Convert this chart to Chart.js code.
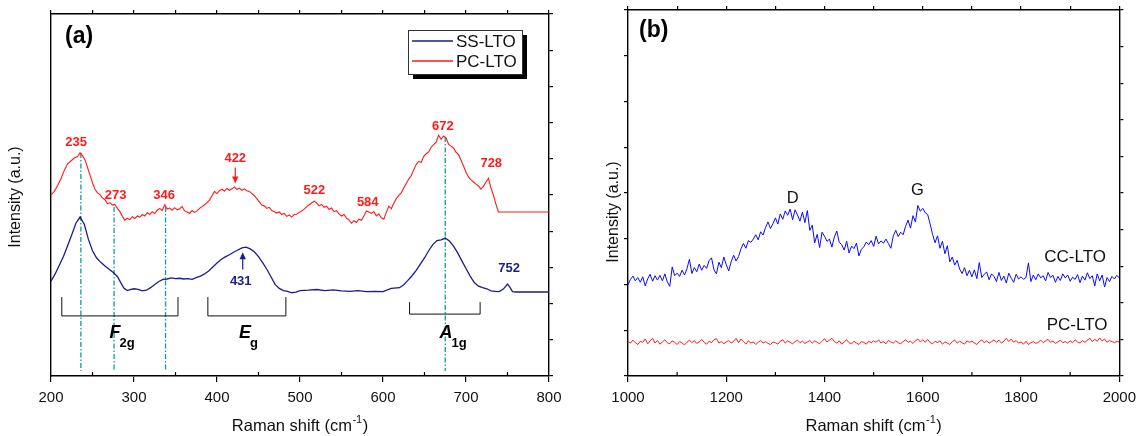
<!DOCTYPE html>
<html>
<head>
<meta charset="utf-8">
<title>Raman spectra</title>
<script src="https://cdn.jsdelivr.net/npm/chart.js@4.4.1/dist/chart.umd.min.js"></script>
<style>
  html, body { margin: 0; padding: 0; background: #fff; }
  #wrap { position: relative; width: 1143px; height: 436px; overflow: hidden; }
  canvas { position: absolute; top: 0; }
  #chartA { left: 0; width: 570px; height: 436px; }
  #chartB { left: 575px; width: 568px; height: 436px; }
</style>
</head>
<body>
<div id="wrap">
  <canvas id="chartA" width="570" height="436"></canvas>
  <canvas id="chartB" width="568" height="436"></canvas>
</div>
<script>
const FONT = "'Liberation Sans', Arial, Helvetica, sans-serif";

/* ---------- panel (a): 200–800 cm-1 ---------- */
const ssLto = [
  [200,26.2],[205,28.2],[210,30.6],[215,33.0],[220,36.0],[225,39.0],[230,42.2],[235,43.9],[240,42.0],[245,37.8],
  [250,34.6],[255,32.6],[260,31.4],[265,30.4],[270,29.5],[275,28.6],[280,27.5],[284,25.8],[288,24.2],[292,23.6],
  [296,23.9],[300,24.1],[305,23.9],[310,23.5],[315,23.7],[320,24.4],[325,25.3],[330,26.1],[335,26.7],[340,26.8],
  [345,27.1],[350,26.9],[355,27.0],[360,26.8],[365,26.9],[370,26.7],[375,27.2],[380,27.6],[385,28.2],[390,29.0],
  [395,30.1],[400,31.2],[405,32.2],[410,32.9],[415,33.5],[420,34.2],[425,34.8],[430,35.4],[435,35.6],[440,35.1],
  [445,34.3],[450,33.0],[455,31.3],[460,29.5],[465,27.4],[470,25.3],[475,24.2],[480,23.6],[485,23.4],[490,23.0],
  [495,23.2],[500,23.6],[510,23.7],[520,23.9],[530,23.6],[540,23.8],[550,23.5],[560,23.4],[570,23.6],[580,23.3],
  [590,23.4],[600,23.3],[610,24.2],[620,24.4],[625,25.2],[630,26.4],[635,27.7],[640,29.2],[645,30.9],[650,32.6],
  [655,34.6],[660,36.3],[665,37.4],[670,37.6],[675,38.1],[680,37.3],[685,35.9],[690,34.0],[695,31.8],[700,29.7],
  [705,27.6],[710,25.8],[715,24.8],[720,24.4],[725,24.1],[730,23.5],[735,23.4],[740,23.3],[745,24.0],[750,25.4],
  [753,24.5],[756,23.3],[760,23.2],[800,23.2]
];

const pcLtoA = [
  [200,50.0],[204,51.0],[208,52.6],[212,54.5],[216,56.8],[220,58.6],[224,59.4],[228,60.2],[232,60.6],[235,61.7],
  [238,60.8],[241,59.7],[244,57.6],[247,55.5],[250,53.4],[253,51.6],[256,50.6],[259,50.1],[262,49.2],[265,48.7],
  [268,47.6],[271,47.9],[274,47.2],[277,47.4],[280,46.3],[283,45.4],[286,44.1],[289,43.0],[292,43.6],[295,43.2],
  [298,44.0],[301,43.5],[304,44.2],[307,43.9],[310,44.6],[313,44.2],[316,45.1],[319,44.6],[322,45.4],[325,44.9],
  [328,45.8],[331,46.3],[334,45.7],[337,47.3],[340,46.1],[343,46.4],[346,45.8],[349,46.5],[352,45.9],[355,46.2],
  [358,46.8],[361,45.6],[364,45.3],[367,44.9],[370,45.7],[373,45.2],[376,45.6],[379,46.3],[382,46.8],[385,47.3],
  [388,47.9],[391,48.6],[394,49.8],[397,51.0],[400,50.4],[403,51.2],[406,51.6],[409,51.1],[412,51.8],[415,51.3],
  [418,51.7],[421,52.2],[424,51.5],[427,51.9],[430,51.3],[433,51.7],[436,51.2],[439,51.0],[442,50.4],[445,49.8],
  [448,49.0],[451,48.1],[454,47.2],[457,47.0],[460,46.3],[463,46.6],[466,45.7],[469,45.4],[472,45.0],[475,45.3],
  [478,44.6],[481,44.9],[484,44.1],[487,44.5],[490,43.9],[493,44.6],[496,44.7],[499,45.2],[502,45.6],[505,46.1],
  [508,46.8],[511,47.3],[514,47.8],[517,48.3],[520,47.8],[523,47.0],[526,47.4],[529,46.6],[532,46.9],[535,46.0],
  [538,46.4],[541,45.4],[544,45.7],[547,44.8],[550,44.2],[553,44.6],[556,43.6],[559,43.1],[562,42.2],[565,42.9],
  [568,42.4],[571,43.3],[574,43.0],[577,44.2],[580,45.6],[583,45.3],[586,44.9],[589,45.4],[592,44.2],[595,44.8],
  [598,43.7],[601,43.3],[604,45.2],[607,46.9],[610,46.2],[613,47.7],[616,49.0],[619,49.9],[622,50.6],[625,52.0],
  [628,53.2],[631,54.4],[634,55.3],[637,57.0],[640,58.4],[643,59.3],[646,59.0],[649,60.6],[652,61.4],[655,61.9],
  [658,63.2],[661,63.9],[664,64.6],[667,66.5],[670,65.4],[673,66.3],[676,65.8],[679,64.0],[682,63.5],[685,63.0],
  [688,61.8],[691,61.2],[694,59.6],[697,58.0],[700,56.3],[703,55.0],[706,54.2],[709,53.6],[712,53.0],[715,52.5],
  [718,51.6],[721,52.4],[724,53.5],[727,54.6],[730,52.0],[733,50.0],[736,47.5],[739,45.3],[800,45.3]
];

// dash-dot guide lines: wavenumber and the intensity where each one starts
const guideX   = [236, 276, 338, 675];
const guideTop = [61.6, 46.7, 46.7, 66.0];
const guideBottom = 1.4;

// labelled peaks
const pcPeaks   = [235, 273, 346, 422, 522, 584, 672, 728];
const pcPeakY   = [64.6, 50.0, 50.0, 60.2, 51.4, 48.0, 69.0, 58.8];
const ssPeaks   = [431, 752];
const ssPeakY   = [26.0, 29.6];

// Raman-active mode groups
const bandMain  = ['F', 'E', 'A'];
const bandSub   = ['2g', 'g', '1g'];
const bandFrom  = [213, 389, 632];
const bandTo    = [353, 483, 717];
const bandTop   = [21.8, 21.8, 20.4];
const bandLow   = [16.6, 16.6, 17.1];

const xTicksA = [200, 300, 400, 500, 600, 700, 800];
const xMinorA = [250, 350, 450, 550, 650, 750];

/* ---------- panel (b): 1000–2000 cm-1 ---------- */
const B_START = 1000, B_STEP = 5;
const ccLto = [
  24.9,26.4,27.3,26.0,26.9,25.6,27.1,24.6,26.5,27.8,25.9,27.4,26.2,27.5,26.0,27.9,25.7,24.5,29.8,27.4,
  28.1,27.2,28.9,27.6,29.3,31.9,28.0,29.6,28.5,30.6,28.9,30.2,29.4,31.5,32.3,29.0,27.9,31.1,29.6,32.5,
  30.4,28.7,31.2,33.0,31.4,32.6,34.8,36.2,34.9,37.0,36.5,37.4,38.6,37.2,39.4,38.5,40.6,42.1,40.3,41.6,
  43.2,41.5,44.3,42.8,45.1,43.9,45.6,42.7,45.4,44.0,42.3,44.8,41.9,45.2,39.8,41.2,36.4,38.7,35.1,39.3,
  38.2,36.8,37.4,35.2,38.0,39.6,36.5,35.9,34.4,36.8,33.6,35.5,34.8,36.3,32.8,34.6,35.3,36.6,35.9,37.0,
  35.4,38.2,36.1,36.9,36.3,37.4,36.2,34.9,38.3,39.8,38.1,39.3,38.6,40.9,42.6,40.4,43.8,42.1,46.6,45.0,
  45.8,44.6,44.1,41.5,38.7,36.4,38.3,34.9,36.8,33.4,35.6,31.2,32.5,30.3,31.6,29.2,28.0,29.6,27.4,28.9,
  27.1,29.0,26.6,31.0,26.9,27.8,28.4,26.3,27.9,27.2,25.8,28.3,26.1,27.3,25.4,28.1,26.7,25.6,27.8,26.5,
  27.1,26.4,26.9,30.9,25.8,27.6,26.3,27.9,26.8,27.4,26.0,28.3,26.9,27.5,25.6,27.2,26.1,27.9,26.8,27.6,
  25.9,27.0,26.4,27.7,25.5,27.3,26.2,28.2,26.6,27.4,24.6,27.9,26.0,27.6,24.3,26.9,25.8,27.2,26.5,27.5,
  26.8
];
const pcLtoB = [
  9.4,9.0,9.8,9.1,8.6,9.5,9.2,10.1,8.8,9.6,10.3,9.0,9.7,8.7,9.3,9.9,9.1,8.8,9.6,9.2,
  8.6,9.4,9.0,8.5,9.2,9.8,9.1,9.7,8.9,9.3,10.0,9.2,8.7,9.5,9.1,9.9,10.2,9.0,9.4,8.8,
  9.3,9.7,9.0,9.5,10.3,9.1,10.1,9.4,8.7,9.6,9.0,9.3,8.6,9.2,9.7,9.0,9.4,8.9,8.6,9.3,
  9.1,8.7,9.5,9.9,9.0,9.6,9.2,8.8,9.4,9.8,9.1,9.5,8.9,9.3,9.7,9.0,9.6,9.2,8.8,9.5,
  10.2,9.3,9.8,10.3,9.4,9.0,9.6,8.7,9.3,9.9,9.1,8.8,9.5,9.0,8.6,9.4,9.2,8.7,9.5,9.1,
  9.6,9.2,9.9,9.0,9.4,8.8,9.7,9.3,9.0,9.6,9.1,8.8,9.4,9.9,9.2,9.5,8.9,9.6,10.1,9.3,
  9.9,9.2,10.0,9.1,8.8,9.5,9.1,9.6,8.7,9.3,9.0,8.6,9.4,9.8,9.0,9.5,9.1,8.7,9.6,9.2,
  9.5,9.0,8.6,9.4,9.9,9.1,9.6,9.0,9.4,9.9,9.2,9.8,9.0,9.5,10.3,9.4,10.1,9.2,9.7,9.0,
  9.3,8.7,9.5,8.6,9.1,9.4,8.9,9.2,9.8,9.1,9.6,10.0,9.2,9.5,8.9,9.3,9.8,9.1,9.4,9.0,
  9.6,9.1,9.9,9.3,9.0,9.7,9.2,9.8,10.3,9.4,10.0,9.5,10.4,9.6,10.1,9.2,9.7,9.4,9.1,9.5,
  9.3
];
const bandLabelsB = ['D', 'G'];
const bandLabelX  = [1335, 1589];
const bandLabelY  = [48.6, 50.8];
const seriesLabelsB = ['CC-LTO', 'PC-LTO'];
const seriesLabelX  = [1910, 1914];
const seriesLabelY  = [32.4, 13.9];
const xTicksB = [1000, 1200, 1400, 1600, 1800, 2000];
const xMinorB = [1100, 1300, 1500, 1700, 1900];

/* ---------- helpers ---------- */
const toXY = arr => arr.map(p => ({ x: p[0], y: p[1] }));
const evenXY = (vals, start, step) => vals.map((v, i) => ({ x: start + i * step, y: v }));

function frameScales(cfg) {
  const axisBorder = { display: true, color: '#000', width: 1.4 };
  const tickGrid = len => ({ display: true, drawOnChartArea: false, drawTicks: true, tickLength: len, color: '#000', lineWidth: 1.2 });
  const scales = {
    x: {
      type: 'linear', position: 'bottom', min: cfg.xmin, max: cfg.xmax,
      afterBuildTicks: s => { s.ticks = cfg.xTicks.map(v => ({ value: v })); },
      ticks: { color: '#111', font: { family: FONT, size: 15 }, padding: 7, maxRotation: 0, autoSkip: false, callback: v => String(v) },
      grid: tickGrid(6), border: axisBorder,
      afterFit: s => { s.height = cfg.bottom; }
    },
    xTop: {
      type: 'linear', position: 'top', min: cfg.xmin, max: cfg.xmax,
      ticks: { display: false, stepSize: cfg.topStep },
      grid: tickGrid(4), border: axisBorder,
      afterFit: s => { s.height = cfg.top; }
    },
    y: {
      type: 'linear', position: 'left', min: 0, max: 100,
      ticks: { display: false, stepSize: cfg.leftStep || 10 },
      grid: cfg.leftStep ? tickGrid(4) : { display: false }, border: axisBorder,
      afterFit: s => { s.width = cfg.left; }
    },
    yRight: {
      type: 'linear', position: 'right', min: 0, max: 100,
      ticks: { display: false, stepSize: 10 },
      grid: tickGrid(4), border: axisBorder,
      afterFit: s => { s.width = cfg.right; }
    }
  };
  return scales;
}

function drawMinorTicks(chart, values, len) {
  const ctx = chart.ctx, xs = chart.scales.x, b = chart.chartArea.bottom;
  ctx.save();
  ctx.strokeStyle = '#000'; ctx.lineWidth = 1.2;
  values.forEach(v => {
    const X = xs.getPixelForValue(v);
    ctx.beginPath(); ctx.moveTo(X, b); ctx.lineTo(X, b - len); ctx.stroke();
  });
  ctx.restore();
}

function drawAxisTitles(chart, yTitleX, yTitleY) {
  const ctx = chart.ctx, area = chart.chartArea;
  ctx.save();
  ctx.fillStyle = '#111';
  // vertical title
  ctx.font = `16px ${FONT}`;
  ctx.textAlign = 'center'; ctx.textBaseline = 'middle';
  ctx.translate(yTitleX, yTitleY);
  ctx.rotate(-Math.PI / 2);
  ctx.fillText('Intensity (a.u.)', 0, 0);
  ctx.restore();

  // horizontal title with superscript
  ctx.save();
  ctx.fillStyle = '#111';
  ctx.textBaseline = 'alphabetic'; ctx.textAlign = 'left';
  const base = 'Raman shift (cm', sup = '-1', close = ')';
  ctx.font = `16.5px ${FONT}`;
  const wb = ctx.measureText(base).width, wc = ctx.measureText(close).width;
  ctx.font = `11px ${FONT}`;
  const ws = ctx.measureText(sup).width;
  const cx = (area.left + area.right) / 2;
  const y0 = 431;
  let x0 = cx - (wb + ws + wc + 1) / 2;
  ctx.font = `16.5px ${FONT}`;
  ctx.fillText(base, x0, y0);
  ctx.font = `11px ${FONT}`;
  ctx.fillText(sup, x0 + wb + 0.5, y0 - 8);
  ctx.font = `16.5px ${FONT}`;
  ctx.fillText(close, x0 + wb + ws + 1, y0);
  ctx.restore();
}

function arrow(ctx, x, y1, y2, color) {
  // shaft from y1 to tip at y2
  const dir = y2 > y1 ? 1 : -1;
  ctx.save();
  ctx.strokeStyle = color; ctx.fillStyle = color; ctx.lineWidth = 1.2;
  ctx.beginPath(); ctx.moveTo(x, y1); ctx.lineTo(x, y2 - dir * 4); ctx.stroke();
  ctx.beginPath();
  ctx.moveTo(x, y2); ctx.lineTo(x - 3.2, y2 - dir * 7); ctx.lineTo(x + 3.2, y2 - dir * 7); ctx.closePath(); ctx.fill();
  ctx.restore();
}

/* ---------- panel (a) drawing extras ---------- */
const pcLabelDx = [-4, 4, -8, 0, -4, -2, 0, 2];
const extrasA = {
  id: 'extrasA',
  beforeDatasetsDraw(chart) {
    const ctx = chart.ctx, xs = chart.scales.x, ys = chart.scales.y;
    ctx.save();
    ctx.strokeStyle = '#119c9c'; ctx.lineWidth = 1.3;
    ctx.setLineDash([5, 2, 1.5, 2]);
    guideX.forEach((gx, i) => {
      const X = xs.getPixelForValue(gx);
      ctx.beginPath(); ctx.moveTo(X, ys.getPixelForValue(guideTop[i])); ctx.lineTo(X, ys.getPixelForValue(guideBottom)); ctx.stroke();
    });
    ctx.restore();
  },
  afterDatasetsDraw(chart) {
    const ctx = chart.ctx, xs = chart.scales.x, ys = chart.scales.y;
    ctx.save();
    ctx.textAlign = 'center'; ctx.textBaseline = 'middle';
    ctx.font = `bold 13px ${FONT}`;
    ctx.fillStyle = '#ff1a1a';
    pcPeaks.forEach((p, i) => {
      ctx.fillText(String(p), xs.getPixelForValue(p) + pcLabelDx[i], ys.getPixelForValue(pcPeakY[i]));
    });
    // arrow below the 422 label
    arrow(ctx, xs.getPixelForValue(422), ys.getPixelForValue(57.6), ys.getPixelForValue(53.2), '#ff1a1a');

    ctx.fillStyle = '#1c1c8a';
    ssPeaks.forEach((p, i) => {
      ctx.fillText(String(p), xs.getPixelForValue(p) - (i === 0 ? 2 : 0), ys.getPixelForValue(ssPeakY[i]));
    });
    arrow(ctx, xs.getPixelForValue(431), ys.getPixelForValue(29.4), ys.getPixelForValue(34.2), '#1c1c8a');

    // mode brackets
    ctx.strokeStyle = '#111'; ctx.lineWidth = 1;
    bandFrom.forEach((f, i) => {
      const x1 = xs.getPixelForValue(f), x2 = xs.getPixelForValue(bandTo[i]);
      const yt = ys.getPixelForValue(bandTop[i]), yb = ys.getPixelForValue(bandLow[i]);
      ctx.beginPath(); ctx.moveTo(x1, yt); ctx.lineTo(x1, yb); ctx.lineTo(x2, yb); ctx.lineTo(x2, yt); ctx.stroke();
    });
    // mode symbols with subscripts
    const symX = [115, 245, 446];
    ctx.fillStyle = '#000';
    ctx.textAlign = 'left'; ctx.textBaseline = 'alphabetic';
    bandMain.forEach((m, i) => {
      ctx.font = `italic bold 18px ${FONT}`;
      const wm = ctx.measureText(m).width;
      const x0 = symX[i] - wm / 2;
      ctx.fillText(m, x0, 338);
      ctx.font = `bold 13px ${FONT}`;
      ctx.fillText(bandSub[i], x0 + wm - 1, 347);
    });

    // legend box with drop shadow
    const lx = 408, ly = 30, lw = 114, lh = 44;
    ctx.fillStyle = '#000';
    ctx.fillRect(lx + 5, ly + 5, lw, lh);
    ctx.fillStyle = '#fff';
    ctx.fillRect(lx, ly, lw, lh);
    ctx.strokeStyle = '#333'; ctx.lineWidth = 1;
    ctx.strokeRect(lx + 0.5, ly + 0.5, lw, lh);
    const items = [['SS-LTO', '#1c1c8a'], ['PC-LTO', '#ff1a1a']];
    ctx.font = `17px ${FONT}`; ctx.textBaseline = 'middle';
    items.forEach((it, i) => {
      const yy = ly + 11 + i * 20;
      ctx.strokeStyle = it[1]; ctx.lineWidth = 1.3;
      ctx.beginPath(); ctx.moveTo(lx + 4, yy); ctx.lineTo(lx + 45, yy); ctx.stroke();
      ctx.fillStyle = '#111';
      ctx.fillText(it[0], lx + 48, yy + 1);
    });

    // panel label
    ctx.font = `bold 23px ${FONT}`; ctx.fillStyle = '#000';
    ctx.textAlign = 'left';
    ctx.fillText('(a)', 65, 37);
    ctx.restore();
  },
  afterDraw(chart) {
    drawMinorTicks(chart, xMinorA, 4);
    drawAxisTitles(chart, 16, 197);
  }
};

/* ---------- panel (b) drawing extras ---------- */
const extrasB = {
  id: 'extrasB',
  afterDatasetsDraw(chart) {
    const ctx = chart.ctx, xs = chart.scales.x, ys = chart.scales.y;
    ctx.save();
    ctx.fillStyle = '#111';
    ctx.textAlign = 'center'; ctx.textBaseline = 'middle';
    ctx.font = `16.5px ${FONT}`;
    bandLabelsB.forEach((t, i) => ctx.fillText(t, xs.getPixelForValue(bandLabelX[i]), ys.getPixelForValue(bandLabelY[i])));
    ctx.font = `17px ${FONT}`;
    seriesLabelsB.forEach((t, i) => ctx.fillText(t, xs.getPixelForValue(seriesLabelX[i]), ys.getPixelForValue(seriesLabelY[i])));
    ctx.font = `bold 23px ${FONT}`; ctx.fillStyle = '#000';
    ctx.textAlign = 'left';
    ctx.fillText('(b)', 64, 31);
    ctx.restore();
  },
  afterDraw(chart) {
    drawMinorTicks(chart, xMinorB, 4);
    drawAxisTitles(chart, 39, 212);
  }
};

const common = {
  responsive: false,
  animation: false,
  devicePixelRatio: 1,
  layout: { padding: 0 },
  plugins: { legend: { display: false }, title: { display: false }, tooltip: { enabled: false } },
  elements: { point: { radius: 0 }, line: { tension: 0, borderWidth: 1.2 } }
};

new Chart(document.getElementById('chartA'), {
  type: 'line',
  data: {
    datasets: [
      { label: 'SS-LTO', data: toXY(ssLto), borderColor: '#1c1c8a', borderWidth: 1.3, fill: false },
      { label: 'PC-LTO', data: toXY(pcLtoA), borderColor: '#ff1a1a', borderWidth: 1.1, fill: false }
    ]
  },
  options: Object.assign({}, common, {
    scales: frameScales({ xmin: 200, xmax: 800, xTicks: xTicksA, topStep: 50, left: 51, right: 21, top: 14, bottom: 60 })
  }),
  plugins: [extrasA]
});

new Chart(document.getElementById('chartB'), {
  type: 'line',
  data: {
    datasets: [
      { label: 'CC-LTO', data: evenXY(ccLto, B_START, B_STEP), borderColor: '#0a0aff', borderWidth: 1.0, fill: false },
      { label: 'PC-LTO', data: evenXY(pcLtoB, B_START, B_STEP), borderColor: '#ff1a1a', borderWidth: 1.0, fill: false }
    ]
  },
  options: Object.assign({}, common, {
    scales: frameScales({ xmin: 1000, xmax: 2000, xTicks: xTicksB, topStep: 100, leftStep: 12.5, left: 53, right: 16, top: 10, bottom: 60 })
  }),
  plugins: [extrasB]
});
</script>
</body>
</html>
